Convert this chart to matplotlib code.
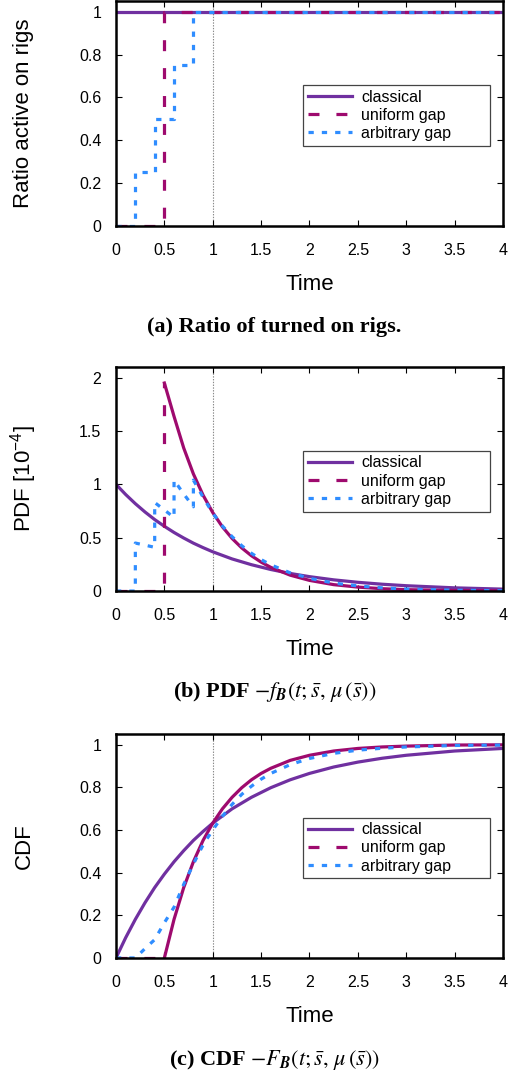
import matplotlib
matplotlib.use("Agg")
import matplotlib.pyplot as plt

plt.rcParams['font.family'] = ['Liberation Sans', 'DejaVu Sans']
plt.rcParams['lines.scale_dashes'] = False

# --- data -------------------------------------------------------------
# ratio of rigs that are switched on
t_cls_ratio = [0, 4]
ratio_cls = [1, 1]
t_uni_ratio = [0, 0.5, 4]
ratio_uni = [0, 1, 1]
t_arb_ratio = [0, 0.2, 0.4, 0.6, 0.8, 4]
ratio_arb = [0, 0.25, 0.5, 0.75, 1, 1]

# classical model
t_cls = [0, 0.1, 0.2, 0.3, 0.4, 0.5, 0.6, 0.7, 0.8, 0.9, 1.0,
         1.2, 1.4, 1.6, 1.8, 2.0, 2.25, 2.5, 2.75, 3.0, 3.5, 4.0]
pdf_cls = [1.000, 0.905, 0.819, 0.741, 0.670, 0.607, 0.549, 0.497, 0.449, 0.407, 0.368,
           0.301, 0.247, 0.202, 0.165, 0.135, 0.105, 0.082, 0.064, 0.050, 0.030, 0.018]
cdf_cls = [0.000, 0.095, 0.181, 0.259, 0.330, 0.393, 0.451, 0.503, 0.551, 0.593, 0.632,
           0.699, 0.753, 0.798, 0.835, 0.865, 0.895, 0.918, 0.936, 0.950, 0.970, 0.982]

# uniform gap (everything switched on at t = 0.5)
t_uni = [0.5, 0.6, 0.7, 0.8, 0.9, 1.0, 1.1, 1.2, 1.3, 1.4, 1.5, 1.6,
         1.8, 2.0, 2.25, 2.5, 2.75, 3.0, 3.5, 4.0]
pdf_uni = [1.95, 1.637, 1.341, 1.098, 0.899, 0.736, 0.602, 0.493, 0.404, 0.331, 0.271, 0.222,
           0.149, 0.100, 0.060, 0.037, 0.022, 0.013, 0.005, 0.002]
cdf_uni = [0.000, 0.181, 0.330, 0.451, 0.551, 0.632, 0.699, 0.753, 0.798, 0.835, 0.865, 0.889,
           0.926, 0.950, 0.970, 0.982, 0.989, 0.993, 0.998, 0.999]

# arbitrary gap (rigs switched on in four steps)
t_arb_pdf = [0, 0.2, 0.2, 0.3, 0.4, 0.4, 0.5, 0.6, 0.6, 0.7, 0.8, 0.8,
             0.9, 1.0, 1.1, 1.2, 1.3, 1.4, 1.5, 1.6,
             1.8, 2.0, 2.25, 2.5, 2.75, 3.0, 3.5, 4.0]
pdf_arb = [0, 0, 0.45, 0.43, 0.41, 0.83, 0.76, 0.69, 1.04, 0.91, 0.79, 1.04,
           0.88, 0.73, 0.61, 0.51, 0.425, 0.354, 0.295, 0.246,
           0.171, 0.119, 0.075, 0.048, 0.030, 0.019, 0.008, 0.003]
t_arb_cdf = [0, 0.2, 0.3, 0.4, 0.5, 0.6, 0.7, 0.8, 0.9, 1.0, 1.1, 1.2, 1.3, 1.4, 1.5, 1.6,
             1.8, 2.0, 2.25, 2.5, 2.75, 3.0, 3.5, 4.0]
cdf_arb = [0, 0, 0.044, 0.086, 0.165, 0.238, 0.345, 0.44, 0.53, 0.60, 0.664, 0.720, 0.767,
           0.805, 0.838, 0.865, 0.906, 0.935, 0.959, 0.974, 0.983, 0.989, 0.996, 0.998]

labels = ['classical', 'uniform gap', 'arbitrary gap']
xticks = [0, 0.5, 1, 1.5, 2, 2.5, 3, 3.5, 4]
xticklabels = ['0', '0.5', '1', '1.5', '2', '2.5', '3', '3.5', '4']

# --- styles -----------------------------------------------------------
c_cls = '#7030a0'
c_uni = '#9e0a6e'
c_arb = '#2f8dff'
lw = 2.3
dash_uni = (7.9, 12.2)
dash_arb = (3.8, 5.8)

fig = plt.figure(figsize=(5.13, 10.76), dpi=100)
ax_a = fig.add_axes([0.2261, 0.7900, 0.7544, 0.2091])
ax_b = fig.add_axes([0.2261, 0.4507, 0.7544, 0.2082])
ax_c = fig.add_axes([0.2261, 0.1097, 0.7544, 0.2082])


def style_axes(ax, ylim, yticks, yticklabels, ylabel):
    ax.set_xlim(0, 4)
    ax.set_ylim(*ylim)
    ax.set_xticks(xticks)
    ax.set_xticklabels(xticklabels)
    ax.set_yticks(yticks)
    ax.set_yticklabels(yticklabels)
    ax.tick_params(direction='in', top=True, right=True, length=4.5, width=0.8,
                   labelsize=11.5, colors='black')
    ax.tick_params(axis='x', pad=12)
    ax.tick_params(axis='y', pad=10.5)
    for s in ax.spines.values():
        s.set_linewidth(1.8)
    ax.axvline(1, color='#8a8a8a', lw=0.8, ls=(0, (1, 1)), zorder=1)
    ax.set_xlabel('Time', fontsize=16, va='baseline')
    ax.xaxis.set_label_coords(0.5, -0.285)
    ax.set_ylabel(ylabel, fontsize=16, va='center')
    ax.yaxis.set_label_coords(-0.238, 0.5)
    ax.legend(loc='upper left', bbox_to_anchor=(0.483, 0.373, 0.483, 0.254),
              mode='expand', borderaxespad=0, fontsize=11.5, frameon=True,
              fancybox=False, edgecolor='#444444', framealpha=1,
              handlelength=2.75, handletextpad=0.6, borderpad=0.3,
              labelspacing=0.2).get_frame().set_linewidth(0.9)


# (a) ratio of rigs turned on
ax_a.plot(t_cls_ratio, ratio_cls, color=c_cls, lw=lw, label=labels[0])
ax_a.step(t_uni_ratio, ratio_uni, where='post', color=c_uni, lw=lw,
          dashes=dash_uni, label=labels[1])
ax_a.step(t_arb_ratio, ratio_arb, where='post', color=c_arb, lw=lw,
          dashes=dash_arb, label=labels[2])
style_axes(ax_a, (0, 1.05), [0, 0.2, 0.4, 0.6, 0.8, 1],
           ['0', '0.2', '0.4', '0.6', '0.8', '1'], 'Ratio active on rigs')

# (b) PDF
ax_b.plot(t_cls, pdf_cls, color=c_cls, lw=lw, label=labels[0])
ax_b.plot([0, t_uni[0], t_uni[0]], [0, 0, pdf_uni[0]], color=c_uni, lw=lw,
          dashes=dash_uni, label=labels[1])
ax_b.plot(t_uni, pdf_uni, color=c_uni, lw=lw)
ax_b.plot(t_arb_pdf, pdf_arb, color=c_arb, lw=lw, dashes=dash_arb, label=labels[2])
style_axes(ax_b, (0, 2.1), [0, 0.5, 1, 1.5, 2], ['0', '0.5', '1', '1.5', '2'],
           r'PDF [10$^{\mathregular{-4}}$]')

# (c) CDF
ax_c.plot(t_cls, cdf_cls, color=c_cls, lw=lw, label=labels[0])
ax_c.plot([0, t_uni[0]], [0, 0], color=c_uni, lw=lw, dashes=dash_uni, label=labels[1])
ax_c.plot(t_uni, cdf_uni, color=c_uni, lw=lw)
ax_c.plot(t_arb_cdf, cdf_arb, color=c_arb, lw=lw, dashes=dash_arb, label=labels[2])
style_axes(ax_c, (0, 1.05), [0, 0.2, 0.4, 0.6, 0.8, 1],
           ['0', '0.2', '0.4', '0.6', '0.8', '1'], 'CDF')

# captions
cap = dict(ha='center', va='baseline', fontsize=16, fontweight='bold',
           family='Liberation Serif', math_fontfamily='stix')
fig.text(0.534, 0.6914, '(a) Ratio of turned on rigs.', **cap)
fig.text(0.535, 0.3525, r'(b) PDF $-f_{\boldsymbol{B}}(t;\bar{s},\,\mu\,(\bar{s}))$', **cap)
fig.text(0.535, 0.0102, r'(c) CDF $-F_{\boldsymbol{B}}(t;\bar{s},\,\mu\,(\bar{s}))$', **cap)

fig.savefig('out.png', dpi=100)
